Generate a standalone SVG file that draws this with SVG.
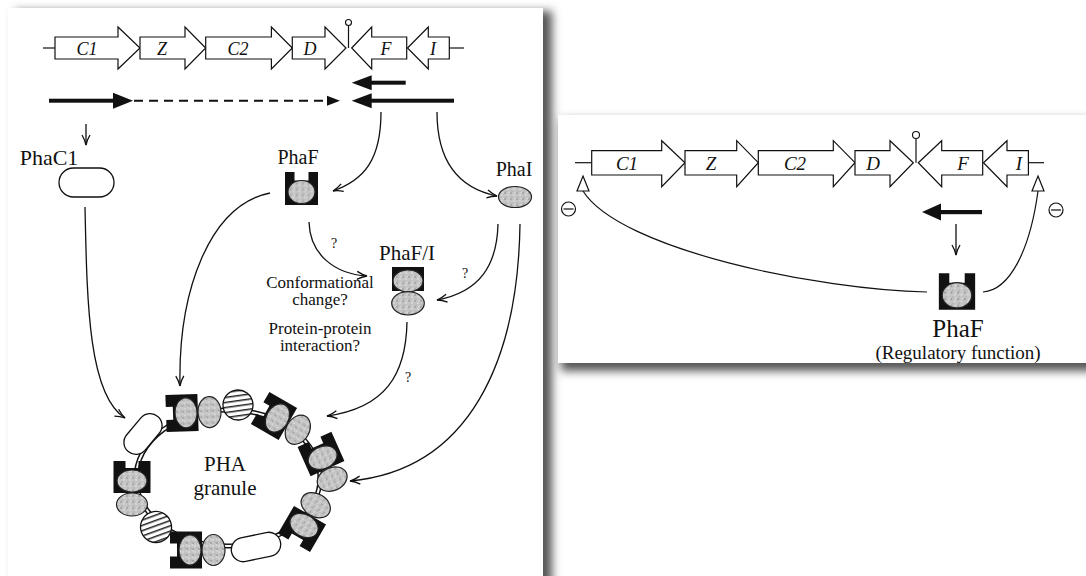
<svg xmlns="http://www.w3.org/2000/svg" width="1086" height="576" viewBox="0 0 1086 576">
<style>
.gene{fill:#fff;stroke:#111;stroke-width:1.2}
.ln{fill:none;stroke:#111;stroke-width:1.2}
.con{fill:none;stroke:#111;stroke-width:1.3;marker-end:url(#ah)}
.gl{font-family:"Liberation Serif",serif;font-style:italic;text-anchor:middle;fill:#111}
.lb{font-family:"Liberation Serif",serif;text-anchor:middle;fill:#111}
.el{fill:url(#stip);stroke:#222;stroke-width:1.2}
.blk{fill:#111}
.pill{fill:#fff;stroke:#111;stroke-width:1.3}
.thick{fill:#111;stroke:none}
</style>
<defs>
<filter id="blur" x="-10%" y="-10%" width="120%" height="130%"><feGaussianBlur stdDeviation="5"/></filter>
<pattern id="stip" width="6" height="6" patternUnits="userSpaceOnUse">
<rect width="6" height="6" fill="#c4c4c4"/>
<circle cx="1" cy="1" r="0.8" fill="#8a8a8a"/>
<circle cx="4" cy="3" r="0.7" fill="#f2f2f2"/>
<circle cx="2" cy="5" r="0.6" fill="#999"/>
<circle cx="5" cy="0.6" r="0.6" fill="#eee"/>
</pattern>
<pattern id="str" width="6" height="5" patternUnits="userSpaceOnUse">
<rect width="6" height="5" fill="#fff"/>
<rect width="6" height="1.5" fill="#222"/>
</pattern>
<marker id="ah" viewBox="0 0 12 10" refX="11" refY="5" markerWidth="12" markerHeight="10" markerUnits="userSpaceOnUse" orient="auto">
<path d="M1,1 Q6,4 11,5 Q6,6 1,9" fill="none" stroke="#111" stroke-width="1.3"/>
</marker>
<g id="pf">
<path class="blk" d="M-16.5,-16.5 H-7 V-8 H7 V-16.5 H16.5 V16.5 H-16.5 Z"/>
<ellipse class="el" cx="0" cy="3.5" rx="13.5" ry="11.5"/>
</g>
<g id="cx">
<path class="blk" d="M-18.5,-16 H-6.5 V-9 H6.5 V-16 H18.5 V16 H-18.5 Z"/>
<ellipse class="el" cx="0" cy="4" rx="15" ry="11"/>
<ellipse class="el" cx="0" cy="27.5" rx="15.5" ry="11.5"/>
</g>
</defs>

<rect width="1086" height="576" fill="#fff"/>
<!-- panels -->
<rect x="15" y="11" width="537" height="600" fill="#555" filter="url(#blur)"/>
<rect x="8" y="8" width="535" height="580" fill="#fff"/>
<rect x="561" y="120" width="540" height="251" fill="#555" filter="url(#blur)"/>
<rect x="558" y="115" width="540" height="248" fill="#fff"/>

<!-- LEFT gene row -->
<g id="genes-left">
<line class="ln" x1="43" y1="48" x2="55" y2="48"/>
<line class="ln" x1="449.3" y1="48" x2="464" y2="48"/>
<polygon class="gene" points="55,37 118,37 118,27 140,48 118,69 118,59 55,59"/>
<polygon class="gene" points="140,37 185,37 185,27 205.7,48 185,69 185,59 140,59"/>
<polygon class="gene" points="205.7,37 271.4,37 271.4,27 292.3,48 271.4,69 271.4,59 205.7,59"/>
<polygon class="gene" points="292.3,37 325,37 325,27 346,48 325,69 325,59 292.3,59"/>
<polygon class="gene" points="351.7,48 371.7,27 371.7,37 406.7,37 406.7,59 371.7,59 371.7,69"/>
<polygon class="gene" points="407.5,48 428.3,27 428.3,37 449.3,37 449.3,59 428.3,59 428.3,69"/>
<line class="ln" x1="348.5" y1="48" x2="348.5" y2="25.5"/>
<circle cx="348.5" cy="22.5" r="3" fill="#fff" stroke="#111" stroke-width="1.1"/>
<text class="gl" x="87" y="54.5" font-size="18">C1</text>
<text class="gl" x="162" y="54.5" font-size="18">Z</text>
<text class="gl" x="238" y="54.5" font-size="18">C2</text>
<text class="gl" x="310" y="54.5" font-size="18">D</text>
<text class="gl" x="386" y="54.5" font-size="18">F</text>
<text class="gl" x="433" y="54.5" font-size="18">I</text>
</g>

<g id="transcripts-left">
<rect class="thick" x="49" y="98.7" width="66" height="4"/>
<polygon class="thick" points="113,92.7 133,100.7 113,108.7"/>
<line x1="134" y1="100.7" x2="327" y2="100.7" stroke="#111" stroke-width="2" stroke-dasharray="9,6"/>
<polygon class="thick" points="327,95.7 340,100.7 327,105.7"/>
<polygon class="thick" points="351.7,82.7 371.7,75.2 371.7,90.2"/>
<rect class="thick" x="370" y="80.7" width="35.7" height="4"/>
<polygon class="thick" points="351.7,100.7 371.7,93.2 371.7,108.2"/>
<rect class="thick" x="370" y="98.7" width="84" height="4"/>
</g>

<g id="phac1">
<text class="lb" x="49" y="165" font-size="22">PhaC1</text>
<rect class="pill" x="59" y="168" width="55" height="29" rx="14.5"/>
</g>
<g id="phaf">
<text class="lb" x="298" y="164" font-size="20">PhaF</text>
<use href="#pf" transform="translate(301.5,188.5)"/>
</g>
<g id="phai">
<text class="lb" x="514" y="176" font-size="20">PhaI</text>
<ellipse class="el" cx="515" cy="197" rx="16.5" ry="10.5"/>
</g>
<g id="phafi">
<text class="lb" x="407" y="260" font-size="21">PhaF/I</text>
<rect class="blk" x="392" y="267" width="32" height="24"/>
<ellipse class="el" cx="408" cy="281" rx="15" ry="11"/>
<ellipse class="el" cx="408" cy="303.3" rx="16.3" ry="11.7"/>
</g>
<g id="notes" class="lb" font-size="17">
<text x="320" y="288">Conformational</text>
<text x="320" y="305">change?</text>
<text x="320" y="334">Protein-protein</text>
<text x="320" y="351">interaction?</text>
<text x="334" y="248" font-size="14">?</text>
<text x="465" y="278" font-size="14">?</text>
<text x="408" y="382" font-size="14">?</text>
</g>

<g id="granule">
<ellipse cx="228" cy="478" rx="92" ry="68" fill="none" stroke="#111" stroke-width="5"/>
<ellipse cx="228" cy="478" rx="92" ry="68" fill="none" stroke="#fff" stroke-width="2"/>
<rect class="pill" x="-23" y="-12" width="46" height="24" rx="12" transform="translate(143,434) rotate(-50)"/>
<rect class="pill" x="-25" y="-12" width="50" height="24" rx="12" transform="translate(256,547) rotate(-12)"/>
<circle cx="238" cy="405" r="15" fill="url(#str)" stroke="#111" stroke-width="1.3" transform="rotate(-8 238 405)"/>
<circle cx="156" cy="527" r="15.5" fill="url(#str)" stroke="#111" stroke-width="1.3" transform="rotate(-20 156 527)"/>
<use href="#cx" transform="translate(182,413) rotate(-92)"/>
<use href="#cx" transform="translate(274,416) rotate(-60)"/>
<use href="#cx" transform="translate(321,454) rotate(-24)"/>
<use href="#cx" transform="translate(302,529) rotate(-150)"/>
<use href="#cx" transform="translate(186,550) rotate(-90)"/>
<use href="#cx" transform="translate(132,477)"/>
<text class="lb" x="225" y="471" font-size="21">PHA</text>
<text class="lb" x="225" y="495" font-size="21">granule</text>
</g>

<!-- RIGHT panel -->
<g id="genes-right">
<line class="ln" x1="575" y1="162.7" x2="591.7" y2="162.7"/>
<line class="ln" x1="1028.4" y1="162.7" x2="1044" y2="162.7"/>
<polygon class="gene" points="591.7,150.7 661.7,150.7 661.7,140.7 685,162.7 661.7,186.7 661.7,175 591.7,175"/>
<polygon class="gene" points="685,150.7 736.7,150.7 736.7,140.7 758.3,162.7 736.7,186.7 736.7,175 685,175"/>
<polygon class="gene" points="758.3,150.7 833.3,150.7 833.3,140.7 855,162.7 833.3,186.7 833.3,175 758.3,175"/>
<polygon class="gene" points="855,150.7 890,150.7 890,140.7 913.3,162.7 890,186.7 890,175 855,175"/>
<polygon class="gene" points="918.3,162.7 941.7,140.7 941.7,150.7 982.7,150.7 982.7,175 941.7,175 941.7,186.7"/>
<polygon class="gene" points="983.5,162.7 1007,140.7 1007,150.7 1028.4,150.7 1028.4,175 1007,175 1007,186.7"/>
<line class="ln" x1="916" y1="162.7" x2="916" y2="138.5"/>
<circle cx="916" cy="135" r="3.5" fill="#fff" stroke="#111" stroke-width="1.1"/>
<text class="gl" x="627" y="170" font-size="19">C1</text>
<text class="gl" x="711" y="170" font-size="19">Z</text>
<text class="gl" x="795" y="170" font-size="19">C2</text>
<text class="gl" x="873" y="170" font-size="19">D</text>
<text class="gl" x="963" y="170" font-size="19">F</text>
<text class="gl" x="1019" y="170" font-size="19">I</text>
</g>
<g id="transcript-right">
<polygon class="thick" points="922,212 941,203.5 941,220.5"/>
<rect class="thick" x="939" y="210" width="43" height="4.2"/>
</g>
<g id="inhibit">
<polygon points="583,176 589,191 577,191" fill="#fff" stroke="#111" stroke-width="1.2"/>
<polygon points="1038,176 1044,191 1032,191" fill="#fff" stroke="#111" stroke-width="1.2"/>
<circle cx="568.5" cy="209" r="7" fill="#fff" stroke="#111" stroke-width="1.2"/>
<line x1="563.5" y1="209" x2="573.5" y2="209" stroke="#111" stroke-width="1.2"/>
<circle cx="1056" cy="210" r="7" fill="#fff" stroke="#111" stroke-width="1.2"/>
<line x1="1051" y1="210" x2="1061" y2="210" stroke="#111" stroke-width="1.2"/>
</g>
<g id="phaf-reg">
<use href="#pf" transform="translate(957,291.5) scale(1.1)"/>
<text class="lb" x="958" y="337" font-size="25">PhaF</text>
<text class="lb" x="958" y="359" font-size="19">(Regulatory function)</text>
</g>

<g id="connectors">
<path class="con" d="M86,124 L86,145"/>
<path class="con" d="M381,112 C381,160 364,180 333,191"/>
<path class="con" d="M437,112 C437,160 458,188 497,196"/>
<path class="con" d="M85,207 C87,300 88,395 125,418"/>
<path class="con" d="M270,193 C210,205 178,290 180,386"/>
<path class="con" d="M309,222 C310,255 335,274 367,276"/>
<path class="con" d="M498,224 C497,265 480,292 437,300"/>
<path class="con" d="M520,224 C518,360 470,470 350,481"/>
<path class="con" d="M407,322 C406,375 385,408 327,416"/>
<path class="con" d="M956,224 L956,255"/>
<path class="ln" d="M927,292 C820,290 620,250 583,191"/>
<path class="ln" d="M983,292 C1010,290 1030,250 1038,191"/>
</g>
</svg>
